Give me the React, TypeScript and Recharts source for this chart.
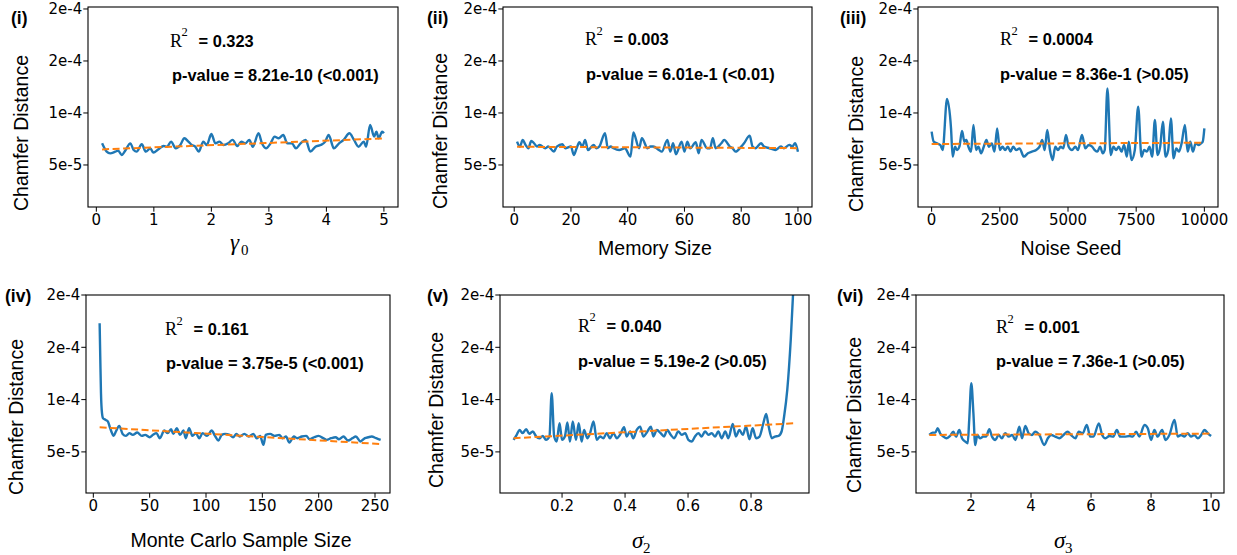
import { LineChart, Line, XAxis, YAxis } from "recharts";

// Chamfer distance values are in units of 1e-5

// (i) gamma_0
const gammaX = [0.1, 0.18, 0.24, 0.33, 0.38, 0.44, 0.51, 0.59, 0.65, 0.7, 0.79, 0.86, 0.94, 0.99, 1.08, 1.17, 1.23, 1.3, 1.38, 1.46, 1.53, 1.6, 1.66, 1.72, 1.78, 1.86, 1.92, 2.0, 2.07, 2.14, 2.21, 2.29, 2.37, 2.45, 2.52, 2.59, 2.66, 2.72, 2.82, 2.88, 2.95, 3.03, 3.1, 3.17, 3.25, 3.32, 3.4, 3.47, 3.55, 3.64, 3.72, 3.81, 3.9, 3.98, 4.04, 4.13, 4.22, 4.3, 4.4, 4.48, 4.56, 4.65, 4.69, 4.76, 4.83, 4.87, 4.91, 4.97, 5.0];
const gammaCD = [7.08, 6.28, 6.12, 6.28, 6.38, 5.96, 6.44, 7.08, 6.44, 6.28, 6.99, 6.28, 6.6, 6.19, 6.51, 6.83, 6.76, 7.25, 6.6, 6.92, 7.57, 7.25, 6.92, 6.76, 6.28, 7.25, 6.92, 7.98, 7.08, 7.25, 6.92, 7.08, 7.41, 6.83, 7.25, 7.08, 7.41, 6.76, 8.05, 7.08, 6.6, 7.08, 7.73, 7.57, 7.89, 7.08, 7.08, 6.6, 7.08, 7.41, 6.28, 6.76, 6.92, 7.25, 7.89, 6.6, 7.08, 7.41, 8.05, 7.41, 6.76, 7.25, 6.76, 8.85, 7.73, 8.21, 7.57, 8.21, 8.05];
const gammaFitX = [0.1, 5.0];
const gammaFitCD = [6.5, 7.55];

// (ii) memory size
const memX = [1, 2, 3, 4, 5, 6, 7, 8, 9, 11, 12, 14, 15, 17, 18, 20, 21, 22, 23, 24, 25, 26, 28, 29, 30, 32, 33, 34, 35, 37, 39, 41, 42, 44, 45, 47, 48, 49, 51, 52, 54, 55, 56, 57, 59, 60, 61, 62, 64, 65, 66, 68, 69, 70, 71, 73, 74, 76, 77, 78, 80, 81, 83, 84, 85, 87, 88, 90, 92, 94, 95, 97, 98, 99, 100];
const memCD = [7.25, 6.77, 7.41, 6.93, 6.61, 7.31, 7.09, 6.77, 6.93, 6.61, 6.77, 6.28, 6.77, 6.99, 6.61, 6.77, 5.96, 6.61, 7.18, 6.77, 7.41, 6.44, 6.93, 6.61, 6.77, 8.05, 6.61, 6.77, 6.61, 6.44, 6.61, 5.8, 8.14, 6.61, 7.57, 6.61, 6.77, 6.77, 6.44, 6.28, 7.41, 6.28, 7.09, 6.03, 7.25, 6.28, 7.25, 6.61, 7.18, 6.12, 7.41, 6.61, 6.61, 7.57, 6.61, 7.09, 7.41, 6.77, 6.61, 6.28, 6.77, 7.09, 7.82, 6.77, 6.61, 7.09, 6.77, 6.61, 6.44, 6.77, 6.61, 6.93, 6.77, 7.09, 6.28];
const memFitX = [1, 100];
const memFitCD = [6.75, 6.62];

// (iii) noise seed
const seedX = [0, 74, 196, 319, 404, 564, 711, 772, 858, 931, 1017, 1115, 1201, 1274, 1348, 1446, 1532, 1630, 1715, 1813, 1912, 2010, 2095, 2206, 2304, 2402, 2500, 2598, 2696, 2794, 2892, 2990, 3100, 3223, 3382, 3529, 3676, 3835, 3958, 4056, 4142, 4240, 4338, 4436, 4534, 4632, 4730, 4828, 4926, 5024, 5146, 5269, 5367, 5514, 5636, 5759, 5882, 5980, 6078, 6176, 6274, 6347, 6445, 6568, 6666, 6764, 6862, 6960, 7058, 7156, 7230, 7328, 7450, 7573, 7695, 7793, 7891, 7989, 8087, 8185, 8283, 8381, 8479, 8577, 8675, 8773, 8871, 8969, 9067, 9165, 9288, 9386, 9484, 9582, 9680, 9778, 9876, 9940, 10000];
const seedCD = [8.2, 7.24, 7.08, 6.92, 6.44, 11.34, 8.52, 5.8, 6.76, 6.44, 6.76, 8.27, 7.24, 7.4, 6.76, 6.28, 8.84, 6.44, 6.76, 6.12, 6.76, 7.4, 6.76, 7.08, 6.28, 8.52, 6.44, 6.76, 6.44, 6.76, 6.28, 6.76, 6.44, 6.6, 5.8, 6.12, 6.28, 6.44, 6.76, 7.4, 6.44, 8.36, 6.44, 5.48, 6.76, 6.44, 6.76, 6.6, 7.88, 6.76, 6.44, 6.76, 6.44, 7.88, 6.6, 6.92, 6.76, 6.44, 6.28, 6.76, 6.12, 6.44, 12.37, 5.96, 6.76, 6.44, 6.76, 6.28, 6.92, 5.8, 7.24, 5.48, 6.44, 10.6, 5.8, 6.44, 6.28, 6.76, 5.8, 9.32, 5.96, 6.76, 9.16, 5.8, 6.44, 9.48, 5.64, 6.6, 6.28, 7.08, 8.84, 6.28, 7.24, 6.28, 7.08, 6.92, 7.08, 7.24, 8.52];
const seedFitX = [0, 10000];
const seedFitCD = [7.02, 7.14];

// (iv) Monte Carlo sample size
const mcX = [5.6, 6.2, 6.8, 7.7, 8.6, 11, 13, 14.5, 16, 18, 20, 23, 26, 29, 32, 35, 39, 43, 46, 50, 53, 56, 59, 63, 66, 69, 71, 74, 77, 80, 82, 85, 88, 91, 94, 97, 101, 105, 108, 111, 114, 117, 121, 124, 127, 130, 134, 138, 142, 145, 148, 151, 153, 157, 161, 165, 168, 171, 174, 178, 181, 185, 189, 192, 196, 200, 204, 207, 211, 215, 218, 222, 226, 230, 233, 237, 241, 244, 247, 251, 255];
const mcCD = [17.3, 13.79, 10.61, 8.7, 8.22, 8.06, 7.9, 7.42, 6.95, 6.53, 6.95, 7.49, 6.72, 6.53, 6.79, 6.63, 6.85, 6.53, 6.63, 6.4, 6.63, 6.79, 6.31, 7.04, 6.79, 7.17, 6.72, 7.26, 6.63, 7.04, 6.31, 7.26, 6.53, 6.79, 6.31, 6.79, 6.53, 7.04, 6.53, 6.09, 6.63, 6.72, 6.63, 6.4, 6.72, 6.47, 6.72, 6.47, 6.72, 6.31, 6.53, 5.67, 6.63, 6.72, 6.53, 6.63, 6.31, 6.47, 5.9, 6.47, 6.31, 6.47, 6.53, 6.21, 6.4, 6.53, 6.31, 6.15, 6.31, 6.4, 6.21, 6.47, 6.09, 6.31, 6.47, 6.0, 6.31, 6.4, 6.47, 6.31, 6.15];
const mcFitX = [5.6, 255];
const mcFitCD = [7.35, 5.75];

// (v) sigma_2
const sig2X = [0.046, 0.056, 0.065, 0.075, 0.086, 0.096, 0.107, 0.118, 0.128, 0.139, 0.149, 0.16, 0.167, 0.175, 0.183, 0.192, 0.2, 0.209, 0.217, 0.225, 0.234, 0.244, 0.253, 0.262, 0.27, 0.28, 0.289, 0.3, 0.31, 0.321, 0.331, 0.342, 0.352, 0.363, 0.374, 0.384, 0.397, 0.405, 0.416, 0.426, 0.437, 0.448, 0.458, 0.471, 0.482, 0.49, 0.501, 0.513, 0.524, 0.534, 0.545, 0.556, 0.569, 0.58, 0.591, 0.601, 0.612, 0.622, 0.633, 0.643, 0.654, 0.665, 0.675, 0.686, 0.696, 0.707, 0.718, 0.728, 0.742, 0.752, 0.763, 0.774, 0.784, 0.795, 0.805, 0.816, 0.827, 0.839, 0.848, 0.856, 0.866, 0.876, 0.887, 0.897, 0.905, 0.915, 0.926, 0.934, 0.945];
const sig2CD = [6.15, 6.63, 7.1, 6.79, 7.17, 6.72, 6.95, 6.47, 6.31, 6.53, 6.15, 6.47, 10.61, 6.47, 5.99, 7.74, 6.15, 6.47, 7.81, 5.99, 7.9, 6.15, 7.74, 5.99, 7.1, 6.31, 6.79, 7.9, 6.15, 6.47, 6.31, 6.79, 6.31, 6.79, 6.31, 6.63, 7.36, 6.47, 6.95, 6.31, 7.1, 7.42, 6.47, 6.95, 7.42, 6.47, 7.1, 6.79, 6.47, 7.1, 6.63, 6.31, 6.95, 6.63, 6.79, 6.15, 5.99, 6.47, 6.79, 6.47, 6.95, 6.63, 6.79, 6.47, 6.95, 6.31, 6.95, 6.31, 7.68, 6.47, 7.1, 6.63, 7.42, 6.21, 7.26, 6.31, 6.47, 7.74, 8.63, 7.42, 6.31, 6.47, 6.53, 6.95, 8.38, 10.93, 15.7, 20.48, 27];
const sig2FitX = [0.046, 0.94];
const sig2FitCD = [6.31, 7.74];

// (vi) sigma_3
const sig3X = [0.61, 0.72, 0.81, 0.89, 0.97, 1.08, 1.19, 1.3, 1.41, 1.5, 1.61, 1.7, 1.81, 1.89, 1.94, 2.01, 2.08, 2.14, 2.21, 2.3, 2.41, 2.5, 2.61, 2.7, 2.81, 2.92, 3.03, 3.14, 3.26, 3.37, 3.48, 3.61, 3.7, 3.81, 3.92, 4.03, 4.14, 4.28, 4.44, 4.56, 4.67, 4.81, 4.94, 5.08, 5.22, 5.33, 5.48, 5.59, 5.72, 5.86, 5.97, 6.08, 6.26, 6.37, 6.48, 6.61, 6.74, 6.86, 6.97, 7.11, 7.28, 7.39, 7.5, 7.61, 7.78, 7.89, 8.0, 8.11, 8.22, 8.37, 8.48, 8.61, 8.78, 8.89, 9.0, 9.11, 9.22, 9.33, 9.44, 9.56, 9.67, 9.78, 9.89, 10.0];
const sig3CD = [6.62, 6.84, 6.84, 7.26, 6.78, 6.46, 6.3, 6.52, 6.94, 6.46, 7.1, 6.3, 5.98, 5.82, 8.05, 11.56, 8.69, 5.66, 6.62, 6.3, 6.46, 6.46, 7.16, 6.46, 6.14, 6.62, 6.3, 6.78, 6.46, 6.62, 6.14, 7.42, 6.3, 7.48, 6.78, 6.62, 6.94, 6.62, 5.66, 6.3, 6.62, 6.46, 6.3, 6.62, 6.94, 6.62, 6.3, 6.94, 6.78, 7.58, 6.46, 6.46, 7.73, 6.62, 6.3, 6.52, 6.46, 7.1, 6.46, 6.46, 6.52, 6.46, 6.94, 6.46, 7.58, 7.26, 6.14, 7.1, 6.46, 7.1, 6.14, 6.62, 8.05, 6.46, 6.62, 6.46, 6.78, 6.46, 6.62, 6.3, 6.62, 7.1, 6.78, 6.52];
const sig3FitX = [0.61, 10];
const sig3FitCD = [6.62, 6.75];

const yTicks = [5, 10, 15, 20];
const yTickLabels = ["5e-5", "1e-4", "2e-4", "2e-4"];

const zip = (xs: number[], ys: number[]) => xs.map((x, i) => ({ x, y: ys[i] }));

const BLUE = "#1f77b4";
const ORANGE = "#ff7f0e";
const SANS = "'Liberation Sans', Arial, sans-serif";
const SERIF = "'Liberation Serif', 'Times New Roman', serif";
const TICK_FONT = "'DejaVu Sans', sans-serif";

type PanelDef = {
  tag: string;
  box: { left: number; top: number; w: number; h: number };
  xDomain: [number, number];
  xTicks: number[];
  yDomain: [number, number];
  data: { x: number; y: number }[];
  fit: { x: number; y: number }[];
  r2: string;
  pval: string;
  xLabel: string;
  math?: [string, string];
  tagPos: [number, number];
  r2Pos: [number, number];
  pPos: [number, number];
  yLabPos: [number, number];
  xLabPos: [number, number];
};

const topY: [number, number] = [0.96, 20.19];
const botY: [number, number] = [1.07, 20.0];

const panels: PanelDef[] = [
  {
    tag: "(i)", box: { left: 88, top: 7, w: 310, h: 200 }, xDomain: [-0.145, 5.245],
    xTicks: [0, 1, 2, 3, 4, 5], yDomain: topY, data: zip(gammaX, gammaCD), fit: zip(gammaFitX, gammaFitCD),
    r2: "= 0.323", pval: "p-value = 8.21e-10 (<0.001)", xLabel: "", math: ["γ", "0"],
    tagPos: [11, 23.5], r2Pos: [170, 46.7], pPos: [172, 81], yLabPos: [28, 133], xLabPos: [241, 250],
  },
  {
    tag: "(ii)", box: { left: 503, top: 7, w: 309, h: 200 }, xDomain: [-3.95, 104.95],
    xTicks: [0, 20, 40, 60, 80, 100], yDomain: topY, data: zip(memX, memCD), fit: zip(memFitX, memFitCD),
    r2: "= 0.003", pval: "p-value = 6.01e-1 (<0.01)", xLabel: "Memory Size",
    tagPos: [427, 23.5], r2Pos: [585, 45], pPos: [586, 80], yLabPos: [447, 131], xLabPos: [655, 255],
  },
  {
    tag: "(iii)", box: { left: 918, top: 7, w: 300, h: 200 }, xDomain: [-500, 10500],
    xTicks: [0, 2500, 5000, 7500, 10000], yDomain: topY, data: zip(seedX, seedCD), fit: zip(seedFitX, seedFitCD),
    r2: "= 0.0004", pval: "p-value = 8.36e-1 (>0.05)", xLabel: "Noise Seed",
    tagPos: [840, 23.5], r2Pos: [1000, 45], pPos: [1000, 80], yLabPos: [863, 134], xLabPos: [1071, 255],
  },
  {
    tag: "(iv)", box: { left: 86, top: 295, w: 304, h: 198 }, xDomain: [-6.5, 263.3],
    xTicks: [0, 50, 100, 150, 200, 250], yDomain: botY, data: zip(mcX, mcCD), fit: zip(mcFitX, mcFitCD),
    r2: "= 0.161", pval: "p-value = 3.75e-5 (<0.001)", xLabel: "Monte Carlo Sample Size",
    tagPos: [5, 302], r2Pos: [165, 335], pPos: [166, 369], yLabPos: [23, 417], xLabPos: [241, 547],
  },
  {
    tag: "(v)", box: { left: 500, top: 295, w: 309, h: 198 }, xDomain: [0.003, 0.984],
    xTicks: [0.2, 0.4, 0.6, 0.8], yDomain: botY, data: zip(sig2X, sig2CD), fit: zip(sig2FitX, sig2FitCD),
    r2: "= 0.040", pval: "p-value = 5.19e-2 (>0.05)", xLabel: "", math: ["σ", "2"],
    tagPos: [427, 302], r2Pos: [578, 331.7], pPos: [578, 367.3], yLabPos: [443, 410], xLabPos: [643, 548],
  },
  {
    tag: "(vi)", box: { left: 916, top: 295, w: 308, h: 198 }, xDomain: [0.167, 10.43],
    xTicks: [2, 4, 6, 8, 10], yDomain: botY, data: zip(sig3X, sig3CD), fit: zip(sig3FitX, sig3FitCD),
    r2: "= 0.001", pval: "p-value = 7.36e-1 (>0.05)", xLabel: "", math: ["σ", "3"],
    tagPos: [837, 302], r2Pos: [996, 333.3], pPos: [996, 367.3], yLabPos: [861, 415], xLabPos: [1065, 548],
  },
];

const ML = 60;
const MT = 14;
const MR = 30;
const XH = 30;

const XTick = (props: any) => (
  <text x={props.x} y={props.y} dy="0.74em" textAnchor="middle" fontSize={15} fontFamily={TICK_FONT} fill="#000">
    {props.payload.value}
  </text>
);

const YTick = (props: any) => (
  <text x={props.x} y={props.y} dy="0.36em" textAnchor="end" fontSize={15} fontFamily={TICK_FONT} fill="#000">
    {yTickLabels[yTicks.indexOf(props.payload.value)] ?? ""}
  </text>
);

function Panel({ p }: { p: PanelDef }) {
  return (
    <div style={{ position: "absolute", left: p.box.left - ML, top: p.box.top - MT }}>
      <LineChart
        width={p.box.w + ML + MR}
        height={p.box.h + MT + XH}
        data={p.data}
        margin={{ top: MT, right: MR, left: 0, bottom: 0 }}
      >
        <XAxis
          dataKey="x"
          type="number"
          domain={p.xDomain}
          ticks={p.xTicks}
          allowDataOverflow
          interval={0}
          height={XH}
          axisLine={false}
          tickLine={{ stroke: "#000" }}
          tickSize={4.7}
          tickMargin={2.5}
          tick={XTick}
        />
        <YAxis
          type="number"
          domain={p.yDomain}
          ticks={yTicks}
          allowDataOverflow
          interval={0}
          width={ML}
          axisLine={false}
          tickLine={{ stroke: "#000" }}
          tickSize={4.7}
          tickMargin={1}
          tick={YTick}
        />
        <Line
          dataKey="y"
          type="monotone"
          stroke={BLUE}
          strokeWidth={2.4}
          dot={false}
          isAnimationActive={false}
        />
        <Line
          data={p.fit}
          dataKey="y"
          type="linear"
          stroke={ORANGE}
          strokeWidth={2}
          strokeDasharray="7 3.5"
          dot={false}
          isAnimationActive={false}
        />
      </LineChart>
    </div>
  );
}

function Labels({ p }: { p: PanelDef }) {
  const [rx, ry] = p.r2Pos;
  const [yx, yy] = p.yLabPos;
  const [lx, ly] = p.xLabPos;
  return (
    <g>
      <rect x={p.box.left} y={p.box.top} width={p.box.w} height={p.box.h} fill="none" stroke="#000" strokeWidth={1.1} />
      <text x={p.tagPos[0]} y={p.tagPos[1]} fontFamily={SANS} fontWeight="bold" fontSize={17.5}>{p.tag}</text>
      <text x={rx} y={ry} fontFamily={SERIF} fontSize={18}>R</text>
      <text x={rx + 11.5} y={ry - 10.5} fontFamily={SERIF} fontSize={12.5}>2</text>
      <text x={rx + 28.5} y={ry} fontFamily={SANS} fontWeight="bold" fontSize={16.4}>{p.r2}</text>
      <text x={p.pPos[0]} y={p.pPos[1]} fontFamily={SANS} fontWeight="bold" fontSize={16.4}>{p.pval}</text>
      <text
        x={yx}
        y={yy}
        transform={`rotate(-90 ${yx} ${yy})`}
        textAnchor="middle"
        fontFamily={SANS}
        fontSize={19.5}
      >
        Chamfer Distance
      </text>
      {p.math ? (
        <g>
          <text x={lx - 11} y={ly} fontFamily={SERIF} fontStyle="italic" fontSize={23}>{p.math[0]}</text>
          <text x={lx} y={ly + 5} fontFamily={SERIF} fontSize={15}>{p.math[1]}</text>
        </g>
      ) : (
        <text x={lx} y={ly} textAnchor="middle" fontFamily={SANS} fontSize={19.5}>{p.xLabel}</text>
      )}
    </g>
  );
}

export default function App() {
  return (
    <div
      style={{
        position: "absolute",
        left: 0,
        top: 0,
        width: 1237,
        height: 555,
        background: "#fff",
        overflow: "hidden",
        fontFamily: SANS,
      }}
    >
      {panels.map((p) => (
        <Panel key={p.tag} p={p} />
      ))}
      <svg
        width={1237}
        height={555}
        style={{ position: "absolute", left: 0, top: 0, pointerEvents: "none" }}
      >
        {panels.map((p) => (
          <Labels key={p.tag} p={p} />
        ))}
      </svg>
    </div>
  );
}
